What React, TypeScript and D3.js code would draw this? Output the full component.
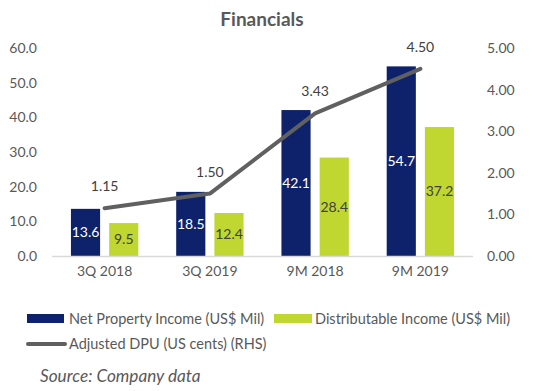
import React from "react";
import * as d3 from "d3";

const categories = ["3Q 2018", "3Q 2019", "9M 2018", "9M 2019"];
const netPropertyIncome = [13.6, 18.5, 42.1, 54.7];
const distributableIncome = [9.5, 12.4, 28.4, 37.2];
const adjustedDPU = [1.15, 1.5, 3.43, 4.5];
const leftTicks = [0, 10, 20, 30, 40, 50, 60];
const rightTicks = [0, 1, 2, 3, 4, 5];

const NAVY = "#0d226a";
const GREEN = "#bfd730";
const LINE = "#606060";
const TEXT = "#595959";
const FONT = "Lato, 'Open Sans', sans-serif";

export default function App() {
  const W = 533, H = 391;
  const left = 52, right = 473, top = 48, bottom = 256;
  const x0 = d3.scaleBand<string>().domain(categories).range([left, right]).paddingInner(0.36).paddingOuter(0.18);
  const x1 = d3.scaleBand<string>().domain(["npi", "di"]).range([0, x0.bandwidth()]).paddingInner(0.237);
  const yL = d3.scaleLinear().domain([0, 60]).range([bottom, top]);
  const yR = d3.scaleLinear().domain([0, 5]).range([bottom, top]);
  const cx = (c: string) => (x0(c) as number) + x0.bandwidth() / 2;
  const line = d3.line<number>().x((_, i) => cx(categories[i])).y((d) => yR(d));

  return (
    <svg width={W} height={H} style={{ position: "absolute", left: 0, top: 0 }} fontFamily={FONT}>
      <rect width={W} height={H} fill="#fff" />
      <text x={262} y={26} textAnchor="middle" fontSize={19} fontWeight="bold" fill={TEXT}>Financials</text>
      {leftTicks.map((t) => (
        <text key={"l" + t} x={37} y={yL(t)} dy="0.35em" textAnchor="end" fontSize={14} fill={TEXT}>{t.toFixed(1)}</text>
      ))}
      {rightTicks.map((t) => (
        <text key={"r" + t} x={487} y={yR(t)} dy="0.35em" textAnchor="start" fontSize={14} fill={TEXT}>{t.toFixed(2)}</text>
      ))}
      {categories.map((c, i) => {
        const bx = x0(c) as number;
        const nx = bx + (x1("npi") as number);
        const gx = bx + (x1("di") as number);
        const bw = x1.bandwidth();
        return (
          <g key={c}>
            <rect x={nx} y={yL(netPropertyIncome[i])} width={bw} height={bottom - yL(netPropertyIncome[i])} fill={NAVY} />
            <rect x={gx} y={yL(distributableIncome[i])} width={bw} height={bottom - yL(distributableIncome[i])} fill={GREEN} />
            <text x={nx + bw / 2} y={(yL(netPropertyIncome[i]) + bottom) / 2} dy="0.35em" textAnchor="middle" fontSize={14} fill="#fff">{netPropertyIncome[i].toFixed(1)}</text>
            <text x={gx + bw / 2} y={(yL(distributableIncome[i]) + bottom) / 2} dy="0.35em" textAnchor="middle" fontSize={14} fill="#404040">{distributableIncome[i].toFixed(1)}</text>
            <text x={cx(c)} y={271} dy="0.35em" textAnchor="middle" fontSize={14} fill={TEXT}>{c}</text>
          </g>
        );
      })}
      <line x1={left} x2={right} y1={bottom + 0.5} y2={bottom + 0.5} stroke="#d9d9d9" strokeWidth={1.5} />
      <path d={line(adjustedDPU) || ""} fill="none" stroke={LINE} strokeWidth={4} strokeLinecap="round" strokeLinejoin="round" />
      {adjustedDPU.map((v, i) => (
        <text key={"d" + i} x={cx(categories[i])} y={yR(v) - 22} dy="0.35em" textAnchor="middle" fontSize={14} fill="#404040">{v.toFixed(2)}</text>
      ))}
      <rect x={27} y={314} width={37} height={9} fill={NAVY} />
      <text x={69} y={318.5} dy="0.35em" fontSize={14.5} fill={TEXT}>Net Property Income (US$ Mil)</text>
      <rect x={274} y={314} width={38} height={9} fill={GREEN} />
      <text x={315} y={318.5} dy="0.35em" fontSize={14.5} fill={TEXT}>Distributable Income (US$ Mil)</text>
      <line x1={28} x2={65} y1={344} y2={344} stroke={LINE} strokeWidth={4} strokeLinecap="round" />
      <text x={69} y={344} dy="0.35em" fontSize={14.5} fill={TEXT}>Adjusted DPU (US cents) (RHS)</text>
      <text x={40} y={376} dy="0.35em" fontSize={17.2} fontStyle="italic" fill={TEXT}>Source: Company data</text>
    </svg>
  );
}
